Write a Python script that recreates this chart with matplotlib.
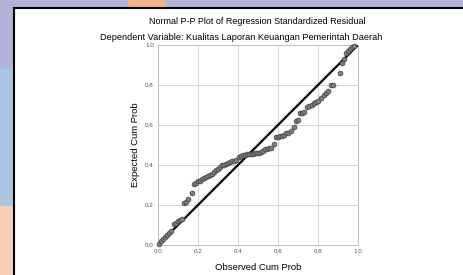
import matplotlib.pyplot as plt
import matplotlib.patches as mpatches
import numpy as np

plt.rcParams['font.family'] = ['Liberation Sans', 'DejaVu Sans']

observed = [0.005, 0.015, 0.025, 0.035, 0.045, 0.055, 0.065, 0.078, 0.088, 0.098,
            0.108, 0.118, 0.128, 0.138, 0.152, 0.17, 0.18, 0.19, 0.2, 0.21,
            0.22, 0.23, 0.24, 0.25, 0.26, 0.27, 0.28, 0.29, 0.3, 0.31,
            0.32, 0.33, 0.34, 0.35, 0.36, 0.37, 0.38, 0.39, 0.405, 0.415,
            0.425, 0.435, 0.445, 0.455, 0.465, 0.475, 0.485, 0.495, 0.505, 0.515,
            0.525, 0.535, 0.545, 0.555, 0.565, 0.578, 0.59, 0.6, 0.61, 0.62,
            0.63, 0.64, 0.65, 0.663, 0.678, 0.69, 0.7, 0.71, 0.72, 0.73,
            0.745, 0.755, 0.77, 0.78, 0.79, 0.8, 0.815, 0.83, 0.84, 0.85,
            0.865, 0.875, 0.91, 0.92, 0.93, 0.94, 0.95, 0.96, 0.97, 0.98]
expected = [0.005, 0.018, 0.028, 0.038, 0.05, 0.062, 0.072, 0.105, 0.11, 0.118,
            0.125, 0.132, 0.212, 0.215, 0.228, 0.26, 0.305, 0.312, 0.318, 0.322,
            0.328, 0.334, 0.34, 0.345, 0.35, 0.356, 0.365, 0.374, 0.382, 0.39,
            0.398, 0.402, 0.405, 0.41, 0.416, 0.42, 0.422, 0.425, 0.442, 0.446,
            0.45, 0.452, 0.455, 0.456, 0.457, 0.457, 0.458, 0.459, 0.462, 0.466,
            0.472, 0.478, 0.482, 0.484, 0.485, 0.505, 0.54, 0.542, 0.543, 0.547,
            0.552, 0.558, 0.562, 0.568, 0.588, 0.62, 0.624, 0.658, 0.662, 0.664,
            0.69, 0.695, 0.7, 0.712, 0.716, 0.718, 0.735, 0.752, 0.76, 0.77,
            0.8, 0.802, 0.862, 0.912, 0.93, 0.96, 0.97, 0.98, 0.988, 0.995]
ticks = [0.0, 0.2, 0.4, 0.6, 0.8, 1.0]
tick_labels = ['0.0', '0.2', '0.4', '0.6', '0.8', '1.0']

fig = plt.figure(figsize=(4.63, 2.75), dpi=100)
fig.patch.set_facecolor('#b3b3d9')

# background bits around the white panel (kept behind the axes)
bg = [
    ((0, 0), 13/463, 0.25, '#f7cfb6', 'none', 0),
    ((0, 0.25), 13/463, 0.5, '#aac6e2', 'none', 0),
    ((128/463, 1 - 8/275), 38/463, 8/275, '#f2b48c', 'none', 0),
    ((14/463, -0.01), 1, 1 - 8/275 + 0.01, 'white', 'black', 1.5),
]
for xy, w, h, fc, ec, lw in bg:
    fig.add_artist(mpatches.Rectangle(xy, w, h, transform=fig.transFigure,
                                      facecolor=fc, edgecolor=ec, linewidth=lw, zorder=-5))

ax = fig.add_axes([158/463, 30/275, 200/463, 200/275])
ax.set_facecolor('white')
ax.set_xlim(0, 1)
ax.set_ylim(0, 1)
ax.set_xticks(ticks)
ax.set_yticks(ticks)
ax.set_xticklabels(tick_labels)
ax.set_yticklabels(tick_labels)
ax.tick_params(length=0, labelsize=4.5, labelcolor='#555555', pad=3)
ax.grid(True, color='#d4d4d4', linewidth=0.7)
ax.set_axisbelow(True)
for s in ax.spines.values():
    s.set_color('#bdbdbd')
    s.set_linewidth(0.7)

ax.plot([0, 1], [0, 1], color='black', linewidth=1.6, zorder=3)
ax.scatter(observed, expected, s=12, facecolor='#7f7f7f', edgecolor='#3f3f3f',
           linewidth=0.5, zorder=4, clip_on=False)

ax.set_xlabel('Observed Cum Prob', fontsize=6.8, labelpad=6)
ax.set_ylabel('Expected Cum Prob', fontsize=6.8, labelpad=4)

fig.text(257/463, 1 - 21/275, 'Normal P-P Plot of Regression Standardized Residual',
         ha='center', va='center', fontsize=6.5)
fig.text(241/463, 1 - 37/275, 'Dependent Variable: Kualitas Laporan Keuangan Pemerintah Daerah',
         ha='center', va='center', fontsize=6.6)

fig.savefig('out.png', dpi=100)
